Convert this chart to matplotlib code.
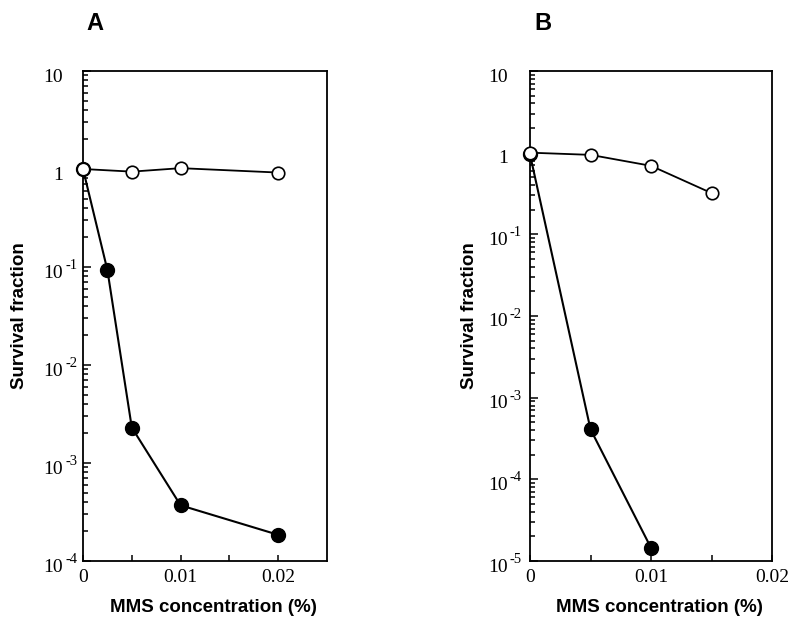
import matplotlib
matplotlib.use('Agg')
import matplotlib.pyplot as plt
import matplotlib.transforms as mtransforms
from matplotlib.ticker import FixedLocator, LogLocator, NullFormatter, FixedFormatter

# Panel A data
a_open_x = [0, 0.005, 0.01, 0.02]
a_open_y = [1.0, 0.94, 1.02, 0.92]
a_fill_x = [0, 0.0025, 0.005, 0.01, 0.02]
a_fill_y = [1.0, 0.093, 2.3e-3, 3.7e-4, 1.85e-4]

# Panel B data
b_open_x = [0, 0.005, 0.01, 0.015]
b_open_y = [1.0, 0.94, 0.69, 0.32]
b_fill_x = [0, 0.005, 0.01]
b_fill_y = [0.95, 4.1e-4, 1.45e-5]

x_ticks = [0, 0.01, 0.02]
x_ticklabels = ['0', '0.01', '0.02']
x_minor = [0.005, 0.015]

a_yticks = [1e-4, 1e-3, 1e-2, 1e-1, 1, 10]
a_ybase = ['10', '10', '10', '10', '1', '10']
a_yexp = ['-4', '-3', '-2', '-1', '', '']
b_yticks = [1e-5, 1e-4, 1e-3, 1e-2, 1e-1, 1, 10]
b_ybase = ['10', '10', '10', '10', '10', '1', '10']
b_yexp = ['-5', '-4', '-3', '-2', '-1', '', '']

W, H = 800, 627
fig = plt.figure(figsize=(8, 6.27), dpi=100)

def make_ax(left, right, top, bottom):
    return fig.add_axes([left / W, 1 - bottom / H, (right - left) / W, (bottom - top) / H])

axA = make_ax(83, 327, 71, 561)
axB = make_ax(530, 772, 71, 561)

sans = 'Liberation Sans'
serif = 'Liberation Serif'

def px(dx, dy):
    return mtransforms.ScaledTranslation(dx / 100, dy / 100, fig.dpi_scale_trans)

def style(ax, xmax, ylo, yticks, ybase, yexp, letter, lx, gap, ylabx, axw):
    ax.set_yscale('log')
    ax.set_xlim(0, xmax)
    ax.set_ylim(ylo, 10)
    ax.xaxis.set_major_locator(FixedLocator(x_ticks))
    ax.xaxis.set_major_formatter(FixedFormatter(x_ticklabels))
    ax.xaxis.set_minor_locator(FixedLocator(x_minor))
    ax.yaxis.set_major_locator(FixedLocator(yticks))
    ax.yaxis.set_major_formatter(NullFormatter())
    ax.yaxis.set_minor_locator(LogLocator(base=10, subs=range(2, 10), numticks=20))
    ax.yaxis.set_minor_formatter(NullFormatter())
    ax.tick_params(which='both', direction='in', top=False, right=False, width=1.1, color='black')
    ax.tick_params(axis='x', which='both', length=4, pad=6, labelsize=14)
    for lab in ax.get_xticklabels():
        lab.set_family(serif)
    ax.tick_params(axis='y', which='major', length=6)
    ax.tick_params(axis='y', which='minor', length=3.5)
    for s in ax.spines.values():
        s.set_linewidth(1.3)
    ax.set_xlabel('MMS concentration (%)', fontsize=13.5, fontweight='bold', family=sans)
    ax.xaxis.set_label_coords(0.5 + 8 / axw, -46 / 490)
    ax.xaxis.label.set_va('center')
    ax.yaxis.set_label_coords(0, 0.5)
    ax.set_ylabel('Survival fraction', fontsize=13.5, fontweight='bold', family=sans)
    ax.yaxis.label.set_transform(ax.transAxes + px(-ylabx, 0))
    ax.yaxis.label.set_va('center')
    ax.yaxis.label.set_ha('center')
    bt = mtransforms.blended_transform_factory(ax.transAxes, ax.transData)
    for v, b, e in zip(yticks, ybase, yexp):
        ax.text(0, v, b, transform=bt + px(-gap, -10.5), ha='right', va='baseline',
                family=serif, fontsize=14, clip_on=False)
        if e:
            ax.text(0, v, e, transform=bt + px(-gap + 2, -2), ha='left', va='baseline',
                    family=serif, fontsize=10.5, clip_on=False)
    fig.text(lx / W, 1 - 23 / H, letter, fontsize=17, fontweight='bold', family=sans,
             ha='center', va='center')

style(axA, 0.025, 1e-4, a_yticks, a_ybase, a_yexp, 'A', 95, 20, 63, 244)
style(axB, 0.02, 1e-5, b_yticks, b_ybase, b_yexp, 'B', 543, 22, 60, 242)

for ax, ox, oy, fx, fy in [(axA, a_open_x, a_open_y, a_fill_x, a_fill_y),
                            (axB, b_open_x, b_open_y, b_fill_x, b_fill_y)]:
    ax.plot(fx, fy, '-', color='black', lw=1.5, marker='o', ms=10, mfc='black', mec='black',
            clip_on=False, zorder=3)
    ax.plot(ox, oy, '-', color='black', lw=1.3, marker='o', ms=9, mfc='white', mec='black',
            mew=1.2, clip_on=False, zorder=4)

fig.savefig('out.png', dpi=100)
